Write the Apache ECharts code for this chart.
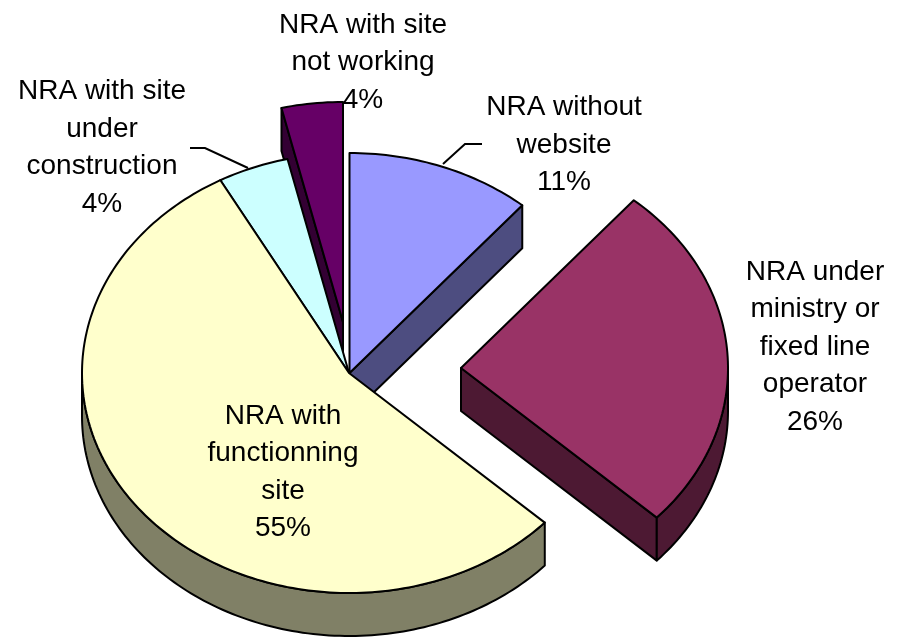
<!DOCTYPE html>
<html>
<head>
<meta charset="utf-8">
<style>html,body{margin:0;padding:0;background:#fff}#c{width:901px;height:638px}</style>
<script src="https://cdn.jsdelivr.net/npm/echarts@6/dist/echarts.min.js"></script>
</head>
<body>
<div id="c"></div>
<script>
// Data, clockwise from 12 o'clock (labels show whole percents)
const categories = ['NRA without\nwebsite', 'NRA under\nministry or\nfixed line\noperator', 'NRA with\nfunctionning\nsite', 'NRA with site\nunder\nconstruction', 'NRA with site\nnot working'];
const shares = [11.2, 25.7, 55.1, 4.3, 3.7];

// Layout and style, one entry per category
const CX = 349, CY = 373, RX = 267, RY = 220, DEPTH = 43;
const look = [
  { dx: 0.5, dy: 0,   top: '#9999ff', wall: '#4d4d80', label: [564, 145], leader: [[443,164],[465,144],[482,144]] },
  { dx: 112, dy: -5,  top: '#993366', wall: '#4d1933', label: [815, 347] },
  { dx: 0,   dy: 0,   top: '#ffffcc', wall: '#808066', label: [283, 472.5] },
  { dx: 0,   dy: 0,   top: '#ccffff', wall: '#668080', label: [102, 148], leader: [[190,148],[205,148],[248,168]] },
  { dx: -6,  dy: -51, top: '#660066', wall: '#330033', label: [363, 62.5] }
];
const paintOrder = [4, 3, 0, 1, 2];

const total = shares.reduce((a, b) => a + b, 0);
const starts = [];
shares.reduce((acc, v, i) => { starts[i] = acc; return acc + v; }, 0);
const toAngle = v => v / total * Math.PI * 2;

function rim(cx, cy, a0, a1) {
  const pts = [], n = Math.max(2, Math.ceil((a1 - a0) / 0.02));
  for (let k = 0; k <= n; k++) {
    const a = a0 + (a1 - a0) * k / n;
    pts.push([cx + RX * Math.sin(a), cy - RY * Math.cos(a)]);
  }
  return pts;
}
function poly(points, fill, z2) {
  return { type: 'polygon', z2, shape: { points },
    style: { fill, stroke: '#000', lineWidth: 2, lineJoin: 'round' } };
}
function renderItem(params, api) {
  const idx = api.value(0), value = api.value(1), L = look[idx];
  const a0 = toAngle(starts[idx]), a1 = a0 + toAngle(value);
  const cx = CX + L.dx, cy = CY + L.dy;
  const base = params.dataIndex * 10 + 1;
  const down = p => [p[0], p[1] + DEPTH];
  const children = [];
  // cut faces that look towards the viewer
  const face = a => {
    const e = rim(cx, cy, a, a)[0];
    children.push(poly([[cx, cy], e, down(e), [cx, cy + DEPTH]], L.wall, base));
  };
  if (Math.sin(a0) < -1e-6) face(a0);
  if (Math.sin(a1) > 1e-6) face(a1);
  // outer wall: the lower half of the rim
  const w0 = Math.max(a0, Math.PI / 2), w1 = Math.min(a1, Math.PI * 1.5);
  if (w1 > w0) {
    const arc = rim(cx, cy, w0, w1);
    children.push(poly(arc.concat(arc.map(down).reverse()), L.wall, base + 1));
  }
  // top face
  children.push(poly([[cx, cy]].concat(rim(cx, cy, a0, a1)), L.top, base + 2));
  if (L.leader) {
    children.push({ type: 'polyline', z2: base + 3, shape: { points: L.leader },
      style: { fill: null, stroke: '#000', lineWidth: 2 } });
  }
  children.push({ type: 'text', z2: 500, x: L.label[0], y: L.label[1],
    style: { text: categories[idx] + '\n' + Math.round(value) + '%', fill: '#000',
      font: '28px "Liberation Sans", Arial, sans-serif', lineHeight: 37.5,
      align: 'center', verticalAlign: 'middle' } });
  return { type: 'group', children };
}
const chart = echarts.init(document.getElementById('c'), null, { renderer: 'canvas' });
chart.setOption({
  animation: false,
  backgroundColor: '#fff',
  series: [{
    type: 'custom',
    coordinateSystem: 'none',
    renderItem,
    silent: true,
    data: paintOrder.map(i => [i, shares[i]])
  }]
});
</script>
</body>
</html>
